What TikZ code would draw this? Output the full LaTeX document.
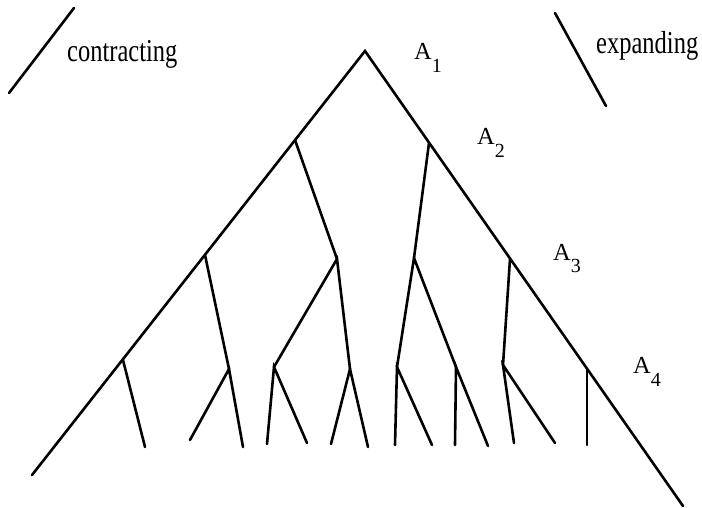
\documentclass[tikz,border=0pt]{standalone}
\usepackage{fontspec}
\setmainfont{Liberation Serif}
\usepackage{tikz}
\tikzset{
  branch/.style={
    line width=2.6pt,
    draw=black,
    line cap=round
  },
  tag/.style={
    inner sep=0pt,
    anchor=base west,
    font=\fontsize{24.5}{26}\selectfont
  }
}
\newcommand{\alab}[1]{A\raisebox{-13pt}{\fontsize{20}{20}\selectfont #1}}
\newcommand{\tallword}[1]{\scalebox{1}[1.3]{#1}}

\begin{document}
\begin{tikzpicture}[x=1pt,y=-1pt]
\useasboundingbox (0,0) rectangle (702,508);
% legend strokes
\coordinate (cLow) at (9,93);
\coordinate (cHigh) at (74,8);
\coordinate (eHigh) at (555,13);
\coordinate (eLow) at (606,106);
\draw[branch] (cLow) -- (cHigh);
\draw[branch] (eHigh) -- (eLow);
\node[tag] (contract) at (67,62) {\tallword{contracting}};
\node[tag] (expand) at (596,54) {\tallword{expanding}};
% main sides
\coordinate (top) at (365,51);
\coordinate (leftEnd) at (32,475);
\coordinate (rightEnd) at (683,506);
\coordinate (l2) at (295,140);
\coordinate (r2) at (429,143);
\coordinate (l3) at (205,255);
\coordinate (r3) at (510,259);
\coordinate (l4) at (123,360);
\coordinate (r4) at (587,369);
\draw[branch] (leftEnd) -- (top) -- (rightEnd);
% inner branch points
\coordinate (m2) at (337,259);
\coordinate (n2) at (414,258);
\coordinate (p3) at (229,369);
\coordinate (q3) at (274,367);
\coordinate (s3) at (350,369);
\coordinate (t3) at (397,367);
\coordinate (u3) at (456,367);
\coordinate (v3) at (503,365);
\draw[branch] (l2) -- (m2);
\draw[branch] (r2) -- (n2);
\draw[branch] (l3) -- (p3);
\draw[branch] (q3) -- (m2) -- (s3);
\draw[branch] (t3) -- (n2) -- (u3);
\draw[branch] (r3) -- (v3);
% leaves
\coordinate (k1) at (145,447);
\coordinate (k2) at (190,440);
\coordinate (k3) at (243,447);
\coordinate (k4) at (267,444);
\coordinate (k5) at (307,443);
\coordinate (k6) at (331,444);
\coordinate (k7) at (368,447);
\coordinate (k8) at (395,445);
\coordinate (k9) at (432,445);
\coordinate (k10) at (455,445);
\coordinate (k11) at (488,446);
\coordinate (k12) at (514,443);
\coordinate (k13) at (555,443);
\coordinate (k14) at (587,445);
\draw[branch] (l4) -- (k1);
\draw[branch] (k2) -- (p3) -- (k3);
\draw[branch] (k4) -- (q3) -- (k5);
\draw[branch] (k6) -- (s3) -- (k7);
\draw[branch] (k8) -- (t3) -- (k9);
\draw[branch] (k10) -- (u3) -- (k11);
\draw[branch] (k12) -- (v3) -- (k13);
\draw[branch] (r4) -- (k14);
% level labels
\node[tag] (a1) at (414,60) {\alab{1}};
\node[tag] (a2) at (477,145) {\alab{2}};
\node[tag] (a3) at (553,260) {\alab{3}};
\node[tag] (a4) at (633,373) {\alab{4}};
\end{tikzpicture}
\end{document}
